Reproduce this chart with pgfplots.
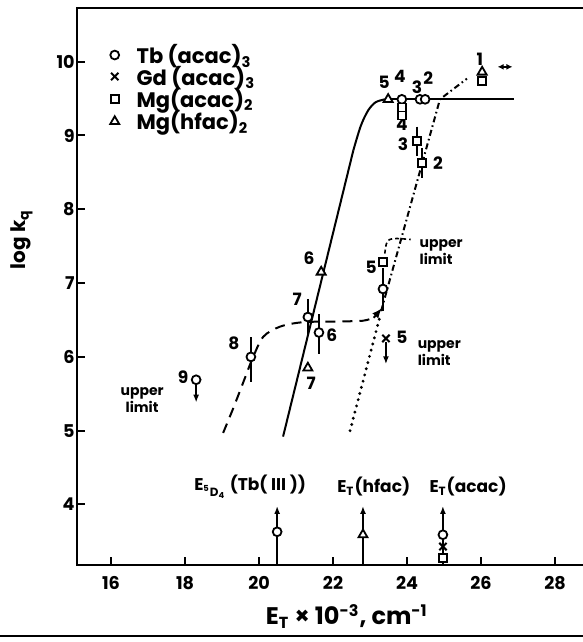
\documentclass[border=0pt]{standalone}
\usepackage{fontspec}
\setmainfont{Poppins}
\usepackage{pgfplots}
\pgfplotsset{compat=1.18}
\usetikzlibrary{arrows.meta,calc}
\begin{document}
\begin{tikzpicture}[font=\bfseries]
\begin{axis}[
  scale only axis, width=257.5pt, height=278.6pt,
  xmin=15.08, xmax=29.0, ymin=3.18, ymax=10.73,
  xtick={16,18,...,28}, ytick={4,5,...,10},
  xtick pos=bottom, ytick pos=left,
  tick align=inside, major tick length=4pt,
  every tick/.style={black, line width=1pt},
  axis line style={line width=1pt},
  /pgf/number format/assume math mode=true,
  ticklabel style={font=\fontsize{8.8}{10}\selectfont\bfseries},
  yticklabel style={inner sep=1pt},
  xticklabel style={yshift=-2pt},
  clip=false,
]
\coordinate (sw) at (rel axis cs:0,0);
% axis titles
\node[rotate=90, font=\fontsize{10}{12}\selectfont\bfseries] at (axis description cs:-0.107,0.584) {log k\textsubscript{q}};
\node[font=\fontsize{12}{14}\selectfont\bfseries] at (axis description cs:0.524,-0.092) {E\textsubscript{T} × 10\textsuperscript{-3}, cm\textsuperscript{-1}};

% solid line (Tb(acac)3)
\addplot[line width=1pt] coordinates {(20.65,4.92) (22.55,8.80)};
\addplot[line width=1pt, smooth] coordinates {(22.55,8.80) (22.75,9.13) (22.95,9.34) (23.15,9.45) (23.4,9.49)};
\addplot[line width=1pt] coordinates {(23.4,9.49) (26.9,9.49)};
% dashed Tb curve
\addplot[line width=1pt, dash pattern=on 5pt off 3.5pt, smooth] coordinates {
 (19.03,4.97) (19.30,5.30) (19.57,5.65) (19.81,5.96) (20.11,6.27) (20.57,6.41) (21.19,6.47) (22.19,6.48) (22.81,6.49) (23.10,6.53)};
\addplot[line width=1pt, -{Latex[length=5pt,width=4pt]}] coordinates {(23.10,6.53) (23.32,6.66)};
% dotted line
\addplot[line width=1.6pt, dash pattern=on 0pt off 3.2pt, line cap=round] coordinates {(22.46,5.00) (23.27,6.55)};
% dash-dot line (Mg)
\addplot[line width=1pt, dash pattern=on 3pt off 1.6pt on 0.8pt off 1.6pt] coordinates {(23.30,6.62) (24.89,9.49) (25.62,9.77)};

% error bars (Tb circles)
\addplot[only marks, mark=*, mark size=2.2pt, mark options={fill=white, line width=0.9pt},
  error bars/.cd, y dir=both, y explicit,
  error bar style={line width=0.9pt},
  error mark options={line width=0.9pt, mark size=3.5pt}]
 coordinates {
 (19.78,6.00) += (0,0.17) -= (0,0.24)
 (21.32,6.54) += (0,0.15) -= (0,0.14)
 (21.62,6.33) += (0,0.15) -= (0,0.19)
 (23.35,6.92) += (0,0.19) -= (0,0.20)
 };
% squares with error bars
\addplot[only marks, mark=square*, mark size=2pt, mark options={fill=white, line width=0.9pt},
  error bars/.cd, y dir=both, y explicit,
  error bar style={line width=0.9pt},
  error mark options={line width=0.9pt, mark size=3pt}]
 coordinates {
 (24.27,8.92) += (0,0.12) -= (0,0.12)
 (24.41,8.63) += (0,0.12) -= (0,0.12)
 };
% Tb(acac)3 circles
\addplot[only marks, mark=*, mark size=2.2pt, mark options={fill=white, line width=0.9pt}] coordinates {
 (18.30,5.69) (23.86,9.49) (24.35,9.49) (24.49,9.49) (20.49,3.63) (24.97,3.59)};
% Gd(acac)3 crosses
\addplot[only marks, mark=x, mark size=2.6pt, mark options={line width=1pt}] coordinates {
 (23.43,6.25) (24.97,3.43)};
% Mg(acac)2 squares
\addplot[only marks, mark=square*, mark size=2pt, mark options={fill=white, line width=0.9pt}] coordinates {
 (23.35,7.29) (23.86,9.38) (23.86,9.27) (26.03,9.74) (24.97,3.28)};
% Mg(hfac)2 triangles
\addplot[only marks, mark=triangle*, mark size=2.6pt, mark options={fill=white, line width=0.9pt}] coordinates {
 (21.32,5.85) (21.68,7.15) (23.49,9.49) (26.03,9.86) (22.81,3.59)};

% upper-limit arrows
\addplot[quiver={u=\thisrow{u},v=\thisrow{v}}, line width=0.9pt, -{Latex[length=4pt,width=3pt]}] table {
x y u v
18.30 5.63 0 -0.25
23.43 6.20 0 -0.30
};
% bottom energy markers
\addplot[quiver={u=\thisrow{u},v=\thisrow{v}}, line width=1.2pt, -{Latex[length=4pt,width=3pt]}] table {
x y u v
20.49 3.18 0 0.80
22.81 3.18 0 0.80
24.97 3.18 0 0.80
};
% double arrow at point 1
\addplot[line width=0.9pt, {Latex[length=3pt,width=3pt]}-{Latex[length=3pt,width=3pt]}] coordinates {(26.45,9.93) (26.85,9.93)};

% legend (key glyphs)
\addplot[only marks, mark=o, mark size=2.2pt, mark options={line width=0.9pt}] coordinates {(16.10,10.09)};
\addplot[only marks, mark=x, mark size=2.6pt, mark options={line width=1pt}] coordinates {(16.10,9.80)};
\addplot[only marks, mark=square, mark size=2pt, mark options={line width=0.9pt}] coordinates {(16.10,9.49)};
\addplot[only marks, mark=triangle, mark size=2.6pt, mark options={line width=0.9pt}] coordinates {(16.10,9.19)};
\begin{scope}[font=\fontsize{10.5}{12}\selectfont\bfseries]
\node[anchor=west] at (axis cs:16.50,10.07) {Tb (acac)\textsubscript{3}};
\node[anchor=west] at (axis cs:16.50,9.78) {Gd (acac)\textsubscript{3}};
\node[anchor=west] at (axis cs:16.50,9.47) {Mg(acac)\textsubscript{2}};
\node[anchor=west] at (axis cs:16.50,9.17) {Mg(hfac)\textsubscript{2}};
\end{scope}

% point labels
\begin{scope}[font=\fontsize{8.5}{10}\selectfont\bfseries]
\node at (axis cs:17.95,5.72) {9};
\node at (axis cs:19.32,6.19) {8};
\node at (axis cs:21.03,6.78) {7};
\node at (axis cs:21.97,6.30) {6};
\node at (axis cs:21.41,5.64) {7};
\node at (axis cs:21.35,7.34) {6};
\node at (axis cs:23.03,7.21) {5};
\node at (axis cs:23.86,6.26) {5};
\node at (axis cs:23.38,9.72) {5};
\node at (axis cs:23.81,9.80) {4};
\node at (axis cs:24.27,9.65) {3};
\node at (axis cs:24.57,9.78) {2};
\node at (axis cs:23.86,9.15) {4};
\node at (axis cs:23.89,8.88) {3};
\node at (axis cs:24.84,8.63) {2};
\node at (axis cs:25.97,10.03) {1};
\end{scope}
\begin{scope}[font=\fontsize{7}{8.5}\selectfont\bfseries]
\node[align=center] at (axis cs:16.84,5.42) {upper\\limit};
\node[align=left, anchor=west] at (axis cs:24.10,6.05) {upper\\limit};
\node[align=left, anchor=west] at (axis cs:24.15,7.42) {upper\\limit};
\end{scope}
\draw[line width=0.8pt, dash pattern=on 2pt off 1.5pt] (axis cs:23.40,7.40) .. controls (axis cs:23.45,7.62) .. (axis cs:24.10,7.59);

% energy labels
\begin{scope}[font=\fontsize{8.5}{10}\selectfont\bfseries]
\node at (axis cs:19.76,4.24) {E\textsubscript{\textsuperscript{5}D\textsubscript{4}} (Tb( III ))};
\node at (axis cs:23.10,4.24) {E\textsubscript{T}(hfac)};
\node at (axis cs:25.65,4.24) {E\textsubscript{T}(acac)};
\end{scope}
\end{axis}
\pgfresetboundingbox
\path[use as bounding box] ([shift={(-38.5pt,-38.5pt)}]sw) rectangle ++(291.5pt,321pt);
\draw[line width=1pt] ([shift={(-38.5pt,-35.5pt)}]sw) -- ++(291.5pt,0);
\end{tikzpicture}
\end{document}
